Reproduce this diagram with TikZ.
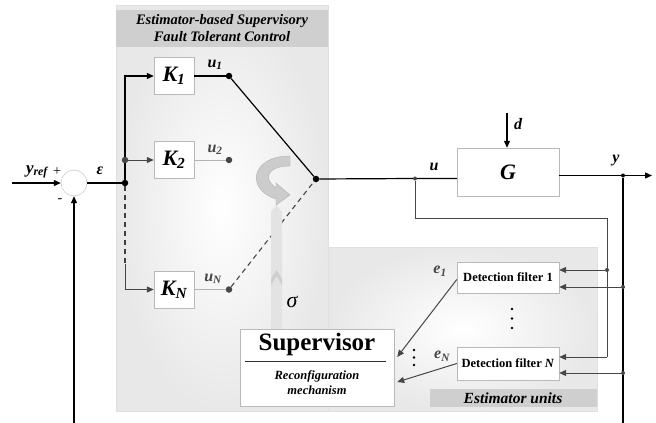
\documentclass[tikz,border=0pt]{standalone}
\usepackage{fontspec}
\setmainfont{Liberation Serif}
\usetikzlibrary{arrows.meta,calc}
\begin{document}
\begin{tikzpicture}[x=1pt,y=-1pt,
  blk/.style={draw=gray!55, fill=white, minimum width=40pt, minimum height=37pt, inner sep=0pt, font=\bfseries\itshape\fontsize{22}{22}\selectfont},
  filt/.style={draw=gray!55, fill=white, minimum width=102pt, inner sep=0pt, font=\bfseries\fontsize{12.5}{13}\selectfont},
  ln/.style={line width=1.2pt, draw=black},
  gln/.style={line width=1pt, draw=gray!55!black},
  arr/.style={-{Triangle[length=7pt,width=6pt]}},
  dot/.style={circle, fill=black, inner sep=0pt, minimum size=6.5pt},
  gdot/.style={circle, fill=gray!55!black, inner sep=0pt, minimum size=6.5pt},
  sdot/.style={circle, fill=gray!55!black, inner sep=0pt, minimum size=4pt},
  tdot/.style={circle, fill=black, inner sep=0pt, minimum size=2.6pt},
  lbl/.style={font=\bfseries\itshape\fontsize{16}{16}\selectfont},
  glbl/.style={font=\bfseries\itshape\fontsize{16}{16}\selectfont, text=gray!55!black},
]
\useasboundingbox (0,0) rectangle (656,423);
% panels
\shade[inner color=white, outer color=gray!18] (116,5) rectangle (328,411);
\draw[gray!25] (116,5) rectangle (328,411);
\fill[gray!38] (116,10) rectangle (328,47);
\node[font=\bfseries\itshape\fontsize{14.5}{17}\selectfont, align=center] (hdr) at (222,28.5) {Estimator-based Supervisory\\Fault Tolerant Control};
\shade[inner color=white, outer color=gray!18] (328,247) rectangle (597,411);
\draw[gray!25] (328,247) rectangle (597,411);
\fill[gray!38] (430,389) rectangle (597,407);
\node[font=\bfseries\itshape\fontsize{15.5}{16}\selectfont] (eu) at (513,398) {Estimator units};

% summing junction
\node[circle, draw=gray!55, fill=white, minimum size=26pt, inner sep=0pt] (sum) at (74,183) {};
\coordinate (yin) at (12,183);
\coordinate (fb) at (74,423);
\draw[ln,arr] (yin) -- (sum.west);
\draw[ln,arr] (fb) -- (sum.south);
\node[font=\bfseries\itshape\fontsize{17}{17}\selectfont] (yref) at (37,172) {y\textsubscript{ref}};
\node[font=\fontsize{14}{14}\selectfont] (plus) at (57,172) {+};
\node[font=\fontsize{14}{14}\selectfont] (minus) at (60,201) {-};
\node[lbl] (eps) at (100,171) {ε};

% controllers
\node[dot] (j1) at (125,183) {};
\draw[ln] (sum.east) -- (j1);
\node[blk] (K1) at (174,76) {K\textsubscript{1}};
\node[blk] (K2) at (174,160) {K\textsubscript{2}};
\node[blk] (KN) at (174,289.5) {K\textsubscript{\textit{N}}};
\coordinate (c1) at (125,76);
\coordinate (cd) at (125,264);
\coordinate (cN) at (125,289.5);
\draw[ln,arr] (j1) -- (c1) -- (K1.west);
\node[gdot] (g2) at (125,160) {};
\draw[gln,arr] (g2) -- (K2.west);
\draw[line width=1.1pt, black!75, dash pattern=on 5pt off 4pt] (j1) -- (cd);
\draw[gln,arr] (cd) -- (cN) -- (KN.west);

\node[dot] (o1) at (229,76) {};
\node[gdot] (o2) at (229,160) {};
\node[gdot] (oN) at (229,289.5) {};
\draw[ln] (K1.east) -- (o1);
\draw[gln, gray!60] (K2.east) -- (o2);
\draw[gln, gray!60] (KN.east) -- (oN);
\node[lbl] (u1) at (215,65) {u\textsubscript{1}};
\node[glbl] (u2) at (215,150) {u\textsubscript{2}};
\node[glbl] (uN) at (213,279) {u\textsubscript{\textit{N}}};

% switch
\node[dot] (sw) at (316,179) {};
\draw[ln] (o1) -- (sw);
\draw[line width=1.1pt, gray!55!black, dash pattern=on 5pt off 4pt] (oN) -- (sw);

% supervisor arrow and rotation arrow
\fill[gray!22] (271,329) -- (271,212) -- (276.5,205) -- (282,212) -- (282,329) -- cycle;
\fill[gray!38] (271,279) -- (276.5,270) -- (282,279) -- (282,285) -- (276.5,276) -- (271,285) -- cycle;
\fill[gray!40, draw=gray!60] (290,156) -- (290,166) .. controls (268,166) and (262,178) .. (276,188) -- (276,183) -- (290,195) -- (276,205) -- (276,199) .. controls (246,190) and (250,156) .. (290,156) -- cycle;
\node[font=\itshape\fontsize{22}{22}\selectfont] (sig) at (292,302) {σ};

% plant
\node[draw=gray!55, fill=white, minimum width=102pt, minimum height=48pt, inner sep=0pt, font=\bfseries\itshape\fontsize{22}{22}\selectfont] (G) at (508,172) {G};
\node[sdot] (ju) at (415,178.5) {};
\draw[ln] (sw) -- (ju) -- (ju -| G.west);
\node[lbl] (ul) at (434,167) {u};
\coordinate (dtop) at (507,113);
\draw[ln,arr] (dtop) -- (dtop |- G.north);
\node[lbl] (dl) at (518,124) {d};
\coordinate (yend) at (652,175.5);
\node[sdot, fill=black] (jy) at (623,175.5) {};
\draw[ln,arr] (jy -| G.east) -- (yend);
\node[lbl] (yl) at (616,161) {y};
\coordinate (ybot) at (623,423);
\draw[ln] (jy) -- (ybot);

% detection filters
\node[filt, minimum height=31pt] (F1) at (508,277.5) {Detection filter 1};
\node[filt, minimum height=33pt] (FN) at (508,363.5) {Detection filter \textit{N}};
\coordinate (b1) at (415,218);
\coordinate (b2) at (607,218);
\coordinate (b3) at (607,357);
\node[sdot] (jb) at (607,270) {};
\draw[gln] (ju) -- (b1) -- (b2) -- (b3);
\draw[gln,arr] (b3) -- (b3 -| FN.east);
\draw[gln,arr] (jb) -- (jb -| F1.east);
\node[sdot] (jy1) at (623,287) {};
\node[sdot] (jy2) at (623,373) {};
\draw[gln,arr] (jy1) -- (jy1 -| F1.east);
\draw[gln,arr] (jy2) -- (jy2 -| FN.east);
\node[tdot] (v1) at (512,309) {};
\node[tdot] (v2) at (512,318.5) {};
\node[tdot] (v3) at (512,328) {};

% supervisor
\node[draw=gray!55, fill=white, minimum width=154pt, minimum height=77pt, inner sep=0pt] (sup) at (317,367.5) {};
\node[font=\bfseries\fontsize{25}{25}\selectfont] (supt) at (317,344) {Supervisor};
\coordinate (sl) at (245,361);
\coordinate (sr) at (386,361);
\draw[line width=1pt, gray!40!black] (sl) -- (sr);
\node[font=\bfseries\itshape\fontsize{12.5}{15}\selectfont, align=center] (rec) at (317,383) {Reconfiguration\\mechanism};
\draw[gln,arr] ([yshift=-2pt]F1.west) -- ([xshift=3pt,yshift=10.5pt]sup.east);
\draw[gln,arr] (FN.west) -- ([xshift=3pt,yshift=-14.5pt]sup.east);
\node[glbl] (e1) at (440,271) {e\textsubscript{1}};
\node[glbl] (eN) at (442,356) {e\textsubscript{\textit{N}}};
\node[tdot] (w1) at (414,350) {};
\node[tdot] (w2) at (414,357.5) {};
\node[tdot] (w3) at (414,365) {};
\end{tikzpicture}
\end{document}
